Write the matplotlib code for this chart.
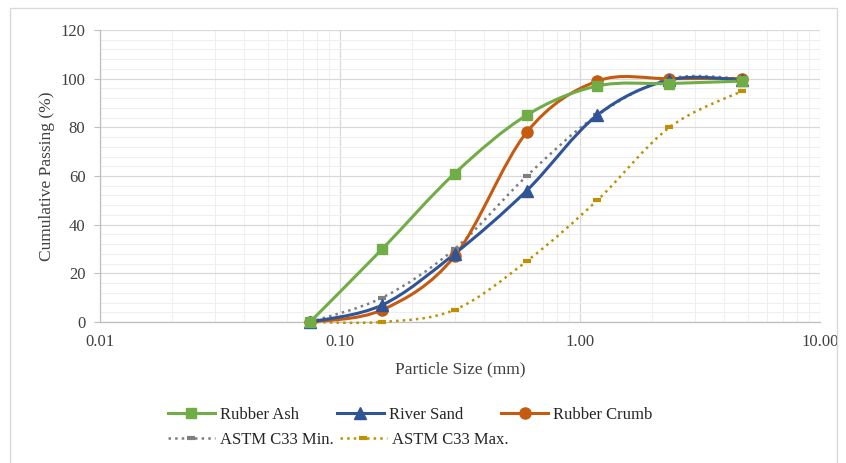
import numpy as np
import matplotlib
matplotlib.use("Agg")
import matplotlib.pyplot as plt
from matplotlib.path import Path
from matplotlib.patches import PathPatch, Rectangle
from matplotlib.lines import Line2D
from matplotlib.ticker import FixedLocator, FixedFormatter, LogLocator, MultipleLocator, NullFormatter

# sieve sizes (mm) and cumulative passing (%)
sieve = [0.075, 0.15, 0.3, 0.6, 1.18, 2.36, 4.75]
rubber_ash = [0, 30, 61, 85, 97, 98, 99]
river_sand = [0, 7, 28, 54, 85, 99.5, 99.5]
rubber_crumb = [0, 5, 27, 78, 99, 100, 100]
astm_min = [0, 10, 30, 60, 85, 100, 100]
astm_max = [0, 0, 5, 25, 50, 80, 95]

x_ticks = [0.01, 0.1, 1, 10]
x_tick_labels = ["0.01", "0.10", "1.00", "10.00"]

plt.rcParams['font.family'] = ['Liberation Serif', 'DejaVu Serif']

fig = plt.figure(figsize=(8.46, 4.63), dpi=100)
ax = fig.add_axes([100/846, 1-322/463, 720/846, 292/463])
ax.set_xscale('log')
ax.set_xlim(0.01, 10)
ax.set_ylim(0, 120)

# pixel-ish scales used for excel-like smoothing (bezier control points)
sx, sy = 720/3, 292/120

def smooth_path(xs, ys):
    u = (np.log10(xs) + 2) * sx
    v = np.array(ys, dtype=float) * sy
    n = len(u)
    verts = [(u[0], v[0])]
    codes = [Path.MOVETO]
    for i in range(n - 1):
        i0 = max(i - 1, 0)
        i3 = min(i + 2, n - 1)
        c1 = (u[i] + (u[i+1] - u[i0]) / 6, v[i] + (v[i+1] - v[i0]) / 6)
        c2 = (u[i+1] - (u[i3] - u[i]) / 6, v[i+1] - (v[i3] - v[i]) / 6)
        verts += [c1, c2, (u[i+1], v[i+1])]
        codes += [Path.CURVE4] * 3
    verts = np.array(verts)
    data = np.column_stack([10 ** (verts[:, 0] / sx - 2), verts[:, 1] / sy])
    return Path(data, codes)

series = [
    (rubber_ash, "Rubber Ash", "#70ad47", "s", 7.5, "-", 2.2),
    (river_sand, "River Sand", "#2f5597", "^", 8, "-", 2.2),
    (rubber_crumb, "Rubber Crumb", "#c55a11", "o", 8, "-", 2.2),
    (astm_min, "ASTM C33 Min.", "#7f7f7f", "_", 6, ":", 1.8),
    (astm_max, "ASTM C33 Max.", "#bf9000", "_", 6, ":", 1.8),
]

handles = {}
for ys, name, col, mk, ms, ls, lw in series[::-1]:
    patch = PathPatch(smooth_path(sieve, ys), fill=False, edgecolor=col, lw=lw,
                      linestyle=ls, zorder=3, clip_on=False)
    ax.add_patch(patch)
    mew = 3 if mk == "_" else 1
    ax.plot(sieve, ys, linestyle='none', marker=mk, markersize=ms, color=col,
            markeredgewidth=mew, zorder=4, clip_on=False)
    handles[name] = Line2D([], [], color=col, lw=lw, linestyle=ls, marker=mk,
                           markersize=ms, markeredgewidth=mew)

# grid
ax.xaxis.set_major_locator(FixedLocator(x_ticks))
ax.xaxis.set_major_formatter(FixedFormatter(x_tick_labels))
ax.xaxis.set_minor_locator(LogLocator(base=10, subs=np.arange(2, 10)))
ax.xaxis.set_minor_formatter(NullFormatter())
ax.yaxis.set_major_locator(MultipleLocator(20))
ax.yaxis.set_minor_locator(MultipleLocator(4))
ax.grid(which='major', color='#d9d9d9', lw=0.9, zorder=0)
ax.grid(which='minor', color='#eeeeee', lw=0.7, zorder=0)
ax.set_axisbelow(True)

for s in ['top', 'right']:
    ax.spines[s].set_visible(False)
for s in ['left', 'bottom']:
    ax.spines[s].set_color('#bfbfbf')
    ax.spines[s].set_linewidth(0.9)
ax.tick_params(which='major', length=4, color='#bfbfbf', labelsize=12,
               labelcolor='#404040', pad=6.5)
ax.tick_params(which='minor', length=0)
ax.tick_params(axis='x', which='major', length=0, pad=9)

ax.set_xlabel("Particle Size (mm)", fontsize=12.5, color='#404040', labelpad=8)
ax.set_ylabel("Cumulative Passing (%)", fontsize=12.5, color='#404040', labelpad=4)

# legend rows
row1 = ["Rubber Ash", "River Sand", "Rubber Crumb"]
row2 = ["ASTM C33 Min.", "ASTM C33 Max."]
leg1 = fig.legend([handles[n] for n in row1], row1, loc='center left',
                  bbox_to_anchor=(168/846, 1-415/463), ncol=3, frameon=False,
                  fontsize=12, handlelength=2.8, handletextpad=0.3,
                  columnspacing=2.3, borderpad=0, borderaxespad=0)
leg2 = fig.legend([handles[n] for n in row2], row2, loc='center left',
                  bbox_to_anchor=(168/846, 1-440/463), ncol=2, frameon=False,
                  fontsize=12, handlelength=2.8, handletextpad=0.3,
                  columnspacing=0.4, borderpad=0, borderaxespad=0)
for leg in (leg1, leg2):
    for t in leg.get_texts():
        t.set_color('#262626')

# chart area border
fig.patches.append(Rectangle((10/846, -0.05), 827/846, 1.05 - 8/463,
                             transform=fig.transFigure, fill=False,
                             edgecolor='#d9d9d9', lw=1))

fig.savefig("out.png", dpi=100)
